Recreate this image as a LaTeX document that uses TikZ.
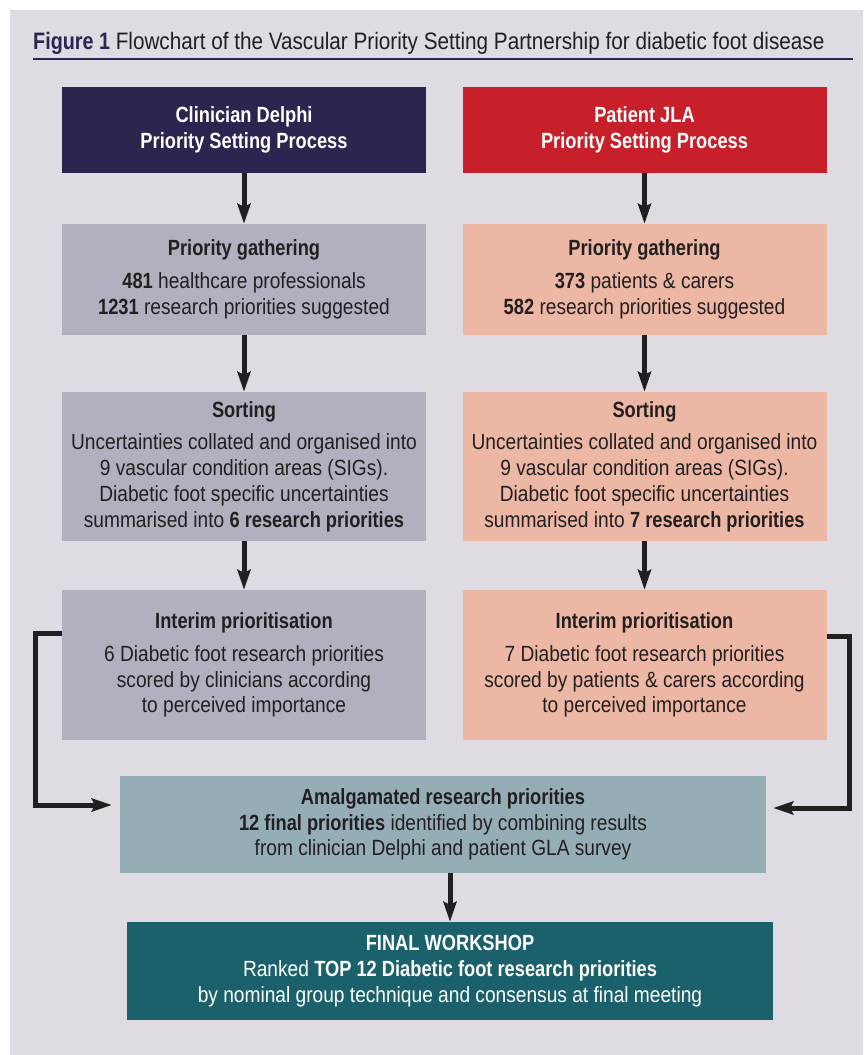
\documentclass[tikz,border=0pt]{standalone}
\usepackage{fontspec}
\setmainfont{Liberation Sans}[FakeStretch=0.87,BoldFeatures={FakeStretch=0.83}]
\usetikzlibrary{arrows.meta}
\definecolor{pagegray}{HTML}{DEDBE3}
\definecolor{ink}{HTML}{231F20}
\definecolor{navy}{HTML}{2B2550}
\definecolor{jlared}{HTML}{C8202A}
\definecolor{lavgray}{HTML}{B3AFBE}
\definecolor{salmon}{HTML}{EDB7A5}
\definecolor{bluegray}{HTML}{95AEB6}
\definecolor{teal}{HTML}{1A616B}
\newcommand{\boxfont}{\fontsize{22}{25.7}\selectfont}
\begin{document}
\begin{tikzpicture}[x=1pt,y=-1pt,
				every node/.style={inner sep=0pt,align=center,font=\boxfont,text=ink},
				colbox/.style={minimum width=364,minimum height=#1},
				clin/.style={colbox=#1,fill=lavgray},
				pat/.style={colbox=#1,fill=salmon},
				flow/.style={draw=ink,line width=5pt,-{Stealth[length=20pt,width=13pt,inset=3pt]}}]
\useasboundingbox (0,0) rectangle (863,1055);
\fill[pagegray] (10,10) rectangle (863,1055);
\node[anchor=base west,font=\fontsize{23.8}{28}\selectfont] (title) at (33,49)
	{\textbf{\color{navy}Figure 1} Flowchart of the Vascular Priority Setting Partnership for diabetic foot disease};
\draw[navy,line width=2.5pt] (33,59) -- (853,59);
% clinician side
\node[colbox=86,fill=navy,text=white] (lhead) at (244,130) {\textbf{Clinician Delphi}\\\textbf{Priority Setting Process}};
\node[clin=111] (lgath) at (244,279.5) {\textbf{Priority gathering}\\[7pt]
	\textbf{481} healthcare professionals\\\textbf{1231} research priorities suggested};
\node[clin=149] (lsort) at (244,466.5) {\textbf{Sorting}\\[7pt]
	Uncertainties collated and organised into\\9 vascular condition areas (SIGs).\\
	Diabetic foot specific uncertainties\\summarised into \textbf{6 research priorities}};
\node[clin=150] (lint) at (244,665) {\textbf{Interim prioritisation}\\[7pt]
	6 Diabetic foot research priorities\\scored by clinicians according\\to perceived importance};
% patient side
\node[colbox=86,fill=jlared,text=white] (rhead) at (644.5,130) {\textbf{Patient JLA}\\\textbf{Priority Setting Process}};
\node[pat=111] (rgath) at (644.5,279.5) {\textbf{Priority gathering}\\[7pt]
	\textbf{373} patients \& carers\\\textbf{582} research priorities suggested};
\node[pat=149] (rsort) at (644.5,466.5) {\textbf{Sorting}\\[7pt]
	Uncertainties collated and organised into\\9 vascular condition areas (SIGs).\\
	Diabetic foot specific uncertainties\\summarised into \textbf{7 research priorities}};
\node[pat=150] (rint) at (644.5,665) {\textbf{Interim prioritisation}\\[7pt]
	7 Diabetic foot research priorities\\scored by patients \& carers according\\to perceived importance};
% joint steps
\node[minimum width=646,minimum height=97,fill=bluegray] (amalg) at (443,824.5)
	{\textbf{Amalgamated research priorities}\\\textbf{12 final priorities} identified by combining results\\from clinician Delphi and patient GLA survey};
\node[minimum width=646,minimum height=98,fill=teal,text=white] (final) at (450,971)
	{\textbf{FINAL WORKSHOP}\\Ranked \textbf{TOP 12 Diabetic foot research priorities}\\by nominal group technique and consensus at final meeting};
\draw[flow] (lhead) -- (lgath);
\draw[flow] (lgath) -- (lsort);
\draw[flow] (lsort) -- (lint);
\draw[flow] (rhead) -- (rgath);
\draw[flow] (rgath) -- (rsort);
\draw[flow] (rsort) -- (rint);
\draw[flow] (final.north |- amalg.south) -- (final.north);
\draw[flow] ([yshift=31.5pt]lint.west) -- ++(-26.5,0) |- ([xshift=-8pt,yshift=19.5pt]amalg.west);
\draw[flow] ([yshift=29pt]rint.east) -- ++(23,0) |- ([xshift=7pt,yshift=16.5pt]amalg.east);
\end{tikzpicture}
\end{document}
